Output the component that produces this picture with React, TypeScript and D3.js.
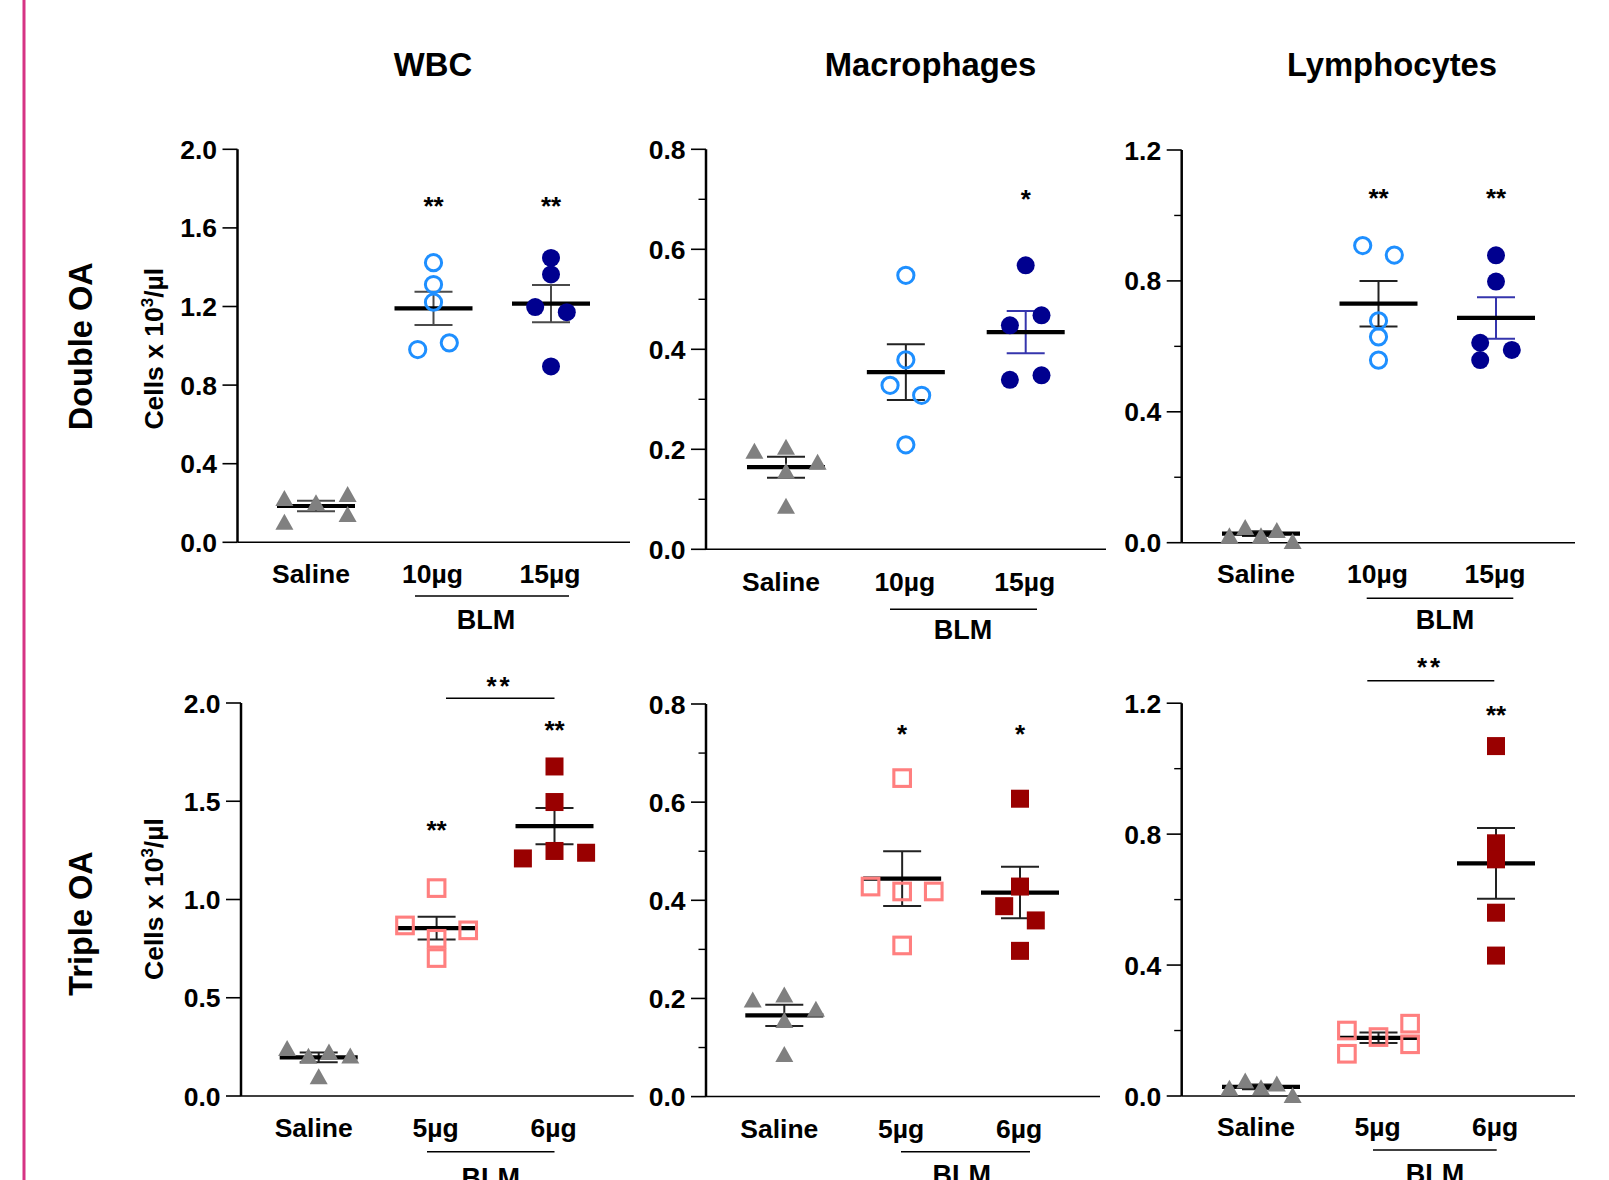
import React from "react";
import * as d3 from "d3";

const W = 1609;
const H = 1180;
const FONT = "'Liberation Sans', Arial, Helvetica, sans-serif";

// ---------- text / categories ----------
const columnTitles = ["WBC", "Macrophages", "Lymphocytes"];
const rowLabels = ["Double OA", "Triple OA"];
const doubleGroups = ["Saline", "10µg", "15µg"];
const tripleGroups = ["Saline", "5µg", "6µg"];
const bracketLabel = "BLM";

// ---------- y ticks ----------
const wbcDoubleTicks = [0, 0.4, 0.8, 1.2, 1.6, 2.0];
const wbcTripleTicks = [0, 0.5, 1.0, 1.5, 2.0];
const macroTicks = [0, 0.2, 0.4, 0.6, 0.8];
const macroMinorTicks = [0.1, 0.3, 0.5, 0.7];
const lymphoTicks = [0, 0.4, 0.8, 1.2];
const lymphoMinorTicks = [0.2, 0.6, 1.0];

// ---------- data (cells x 10^3/µl) ----------
const wbcDoubleSaline = [0.226, 0.104, 0.204, 0.246, 0.144];
const wbcDouble10 = [1.423, 1.312, 1.222, 0.981, 1.015];
const wbcDouble15 = [1.447, 1.363, 1.197, 1.171, 0.895];
const macroDoubleSaline = [0.197, 0.205, 0.157, 0.087, 0.175];
const macroDouble10 = [0.548, 0.379, 0.328, 0.308, 0.209];
const macroDouble15 = [0.568, 0.448, 0.468, 0.339, 0.348];
const lymphoDoubleSaline = [0.023, 0.048, 0.023, 0.039, 0.005];
const lymphoDouble10 = [0.908, 0.879, 0.678, 0.629, 0.558];
const lymphoDouble15 = [0.878, 0.798, 0.611, 0.589, 0.558];
const wbcTripleSaline = [0.244, 0.205, 0.227, 0.206, 0.1];
const wbcTriple5 = [1.058, 0.868, 0.843, 0.8, 0.702];
const wbcTriple6 = [1.677, 1.496, 1.209, 1.247, 1.238];
const macroTripleSaline = [0.198, 0.208, 0.156, 0.087, 0.179];
const macroTriple5 = [0.649, 0.428, 0.418, 0.418, 0.308];
const macroTriple6 = [0.607, 0.428, 0.388, 0.359, 0.297];
const lymphoTripleSaline = [0.025, 0.047, 0.027, 0.038, 0.003];
const lymphoTriple5 = [0.2, 0.129, 0.18, 0.221, 0.158];
const lymphoTriple6 = [1.069, 0.772, 0.723, 0.56, 0.429];

// horizontal scatter slot of each point (in marker widths)
const wbcDoubleSlots = [[-2, -2, 0, 2, 2], [0, 0, 0, -1, 1], [0, 0, -1, 1, 0]];
const macroDoubleSlots = [[-2, 0, 0, 0, 2], [0, 0, -1, 1, 0], [0, -1, 1, -1, 1]];
const lymphoDoubleSlots = [[-2, -1, 0, 1, 2], [-1, 1, 0, 0, 0], [0, 0, -1, 1, -1]];
const wbcTripleSlots = [[-2, -0.65, 0.65, 2, 0], [0, -2, 2, 0, 0], [0, 0, -2, 0, 2]];
const macroTripleSlots = [[-2, 0, 0, 0, 2], [0, -2, 0, 2, 0], [0, 0, -1, 1, 0]];
const lymphoTripleSlots = [[-2, -1, 0, 1, 2], [-2, -2, 0, 2, 2], [0, 0, 0, 0, 0]];

// significance marks
const wbcDoubleStars = ["", "**", "**"];
const macroDoubleStars = ["", "", "*"];
const lymphoDoubleStars = ["", "**", "**"];
const wbcTripleStars = ["", "**", "**"];
const macroTripleStars = ["", "*", "*"];
const lymphoTripleStars = ["", "", "**"];
const betweenDoseStars = "**";

// ---------- styles ----------
const GRAY = "#808080";
const BLUE_OPEN = "#1e8fff";
const NAVY = "#00008f";
const PINK_OPEN = "#ff7f7f";
const DARK_RED = "#990000";
const ERR_DARK = "#222";
const ERR_GRAY = "#4a4a4a";
const ERR_BLUE = "#3535ad";
const SLOT = 15.8;

type MarkerKind = "triangle" | "openCircle" | "filledCircle" | "openSquare" | "filledSquare";

function Marker({ kind, x, y }: { kind: MarkerKind; x: number; y: number }) {
  const t = `translate(${x},${y})`;
  switch (kind) {
    case "triangle":
      return <path transform={t} d="M0,-8L9,8L-9,8Z" fill={GRAY} />;
    case "openCircle":
      return <circle transform={t} r={8.1} fill="none" stroke={BLUE_OPEN} strokeWidth={3} />;
    case "filledCircle":
      return <circle transform={t} r={9} fill={NAVY} />;
    case "openSquare":
      return <rect transform={t} x={-8.3} y={-8.3} width={16.6} height={16.6} fill="none" stroke={PINK_OPEN} strokeWidth={3.1} />;
    case "filledSquare":
      return <rect transform={t} x={-9} y={-9} width={18} height={18} fill={DARK_RED} />;
  }
  return null;
}

interface PanelCfg {
  axisX: number; yTop: number; yZero: number; x0: number; x2: number; xEnd: number;
  catY: number; blmY: number; blmX1: number; blmX2: number; blmTextX: number; blmTextY: number;
  starY: number[];
  bracket?: { x1: number; x2: number; y: number; textX: number; textY: number };
}

interface PanelProps {
  cfg: PanelCfg;
  groups: string[];
  series: number[][];
  slots: number[][];
  markers: MarkerKind[];
  errColors: string[];
  ticks: number[];
  minor: number[];
  domain: [number, number];
  stars: string[];
}

function Panel({ cfg, groups, series, slots, markers, errColors, ticks, minor, domain, stars }: PanelProps) {
  const y = d3.scaleLinear().domain(domain).range([cfg.yZero, cfg.yTop]);
  const x = d3.scalePoint<string>().domain(groups).range([cfg.x0, cfg.x2]);
  const fmt = d3.format(".1f");
  const stats = series.map((vals) => {
    const m = d3.mean(vals) as number;
    const sem = (d3.deviation(vals) as number) / Math.sqrt(vals.length);
    return { m, sem };
  });
  return (
    <g>
      {/* y axis */}
      <line x1={cfg.axisX} x2={cfg.axisX} y1={y(domain[1])} y2={y(0)} stroke="#000" strokeWidth={2.5} />
      {ticks.map((t) => (
        <g key={"t" + t}>
          <line x1={cfg.axisX - 15} x2={cfg.axisX} y1={y(t)} y2={y(t)} stroke="#000" strokeWidth={1.6} />
          <text x={cfg.axisX - 20.5} y={y(t)} dy="0.36em" textAnchor="end" fontFamily={FONT} fontWeight="bold" fontSize={26.5}>
            {fmt(t)}
          </text>
        </g>
      ))}
      {minor.map((t) => (
        <line key={"m" + t} x1={cfg.axisX - 7.5} x2={cfg.axisX} y1={y(t)} y2={y(t)} stroke="#000" strokeWidth={1.4} />
      ))}
      {/* x axis */}
      <line x1={cfg.axisX} x2={cfg.xEnd} y1={y(0)} y2={y(0)} stroke="#000" strokeWidth={1.5} />
      {groups.map((g) => (
        <text key={"c" + g} x={(x(g) as number) - (g === "Saline" ? 5 : 1)} y={cfg.catY} textAnchor="middle" fontFamily={FONT} fontWeight="bold" fontSize={26.5}>
          {g}
        </text>
      ))}
      <line x1={cfg.blmX1} x2={cfg.blmX2} y1={cfg.blmY} y2={cfg.blmY} stroke="#000" strokeWidth={1.5} />
      <text x={cfg.blmTextX} y={cfg.blmTextY} textAnchor="middle" fontFamily={FONT} fontWeight="bold" fontSize={27}>
        {bracketLabel}
      </text>
      {/* mean + SEM */}
      {groups.map((g, i) => {
        const cx = x(g) as number;
        const { m, sem } = stats[i];
        const c = errColors[i];
        return (
          <g key={"e" + g}>
            <line x1={cx} x2={cx} y1={y(m - sem)} y2={y(m + sem)} stroke={c} strokeWidth={2} />
            <line x1={cx - 19} x2={cx + 19} y1={y(m + sem)} y2={y(m + sem)} stroke={c} strokeWidth={2} />
            <line x1={cx - 19} x2={cx + 19} y1={y(m - sem)} y2={y(m - sem)} stroke={c} strokeWidth={2} />
            <line x1={cx - 39} x2={cx + 39} y1={y(m)} y2={y(m)} stroke="#000" strokeWidth={4.2} />
          </g>
        );
      })}
      {/* points */}
      {groups.map((g, i) =>
        series[i].map((v, j) => (
          <Marker key={g + j} kind={markers[i]} x={(x(g) as number) + slots[i][j] * SLOT} y={y(v)} />
        ))
      )}
      {/* stars */}
      {groups.map((g, i) =>
        stars[i] ? (
          <text key={"s" + g} x={x(g) as number} y={cfg.starY[i] + 14.5} textAnchor="middle" fontFamily={FONT} fontWeight="bold" fontSize={26}>
            {stars[i]}
          </text>
        ) : null
      )}
      {cfg.bracket ? (
        <g>
          <line x1={cfg.bracket.x1} x2={cfg.bracket.x2} y1={cfg.bracket.y} y2={cfg.bracket.y} stroke="#000" strokeWidth={1.5} />
          <text x={cfg.bracket.textX} y={cfg.bracket.textY + 13} textAnchor="middle" fontFamily={FONT} fontWeight="bold" fontSize={26} letterSpacing={3}>
            {betweenDoseStars}
          </text>
        </g>
      ) : null}
    </g>
  );
}

const cfgA: PanelCfg = { axisX: 237.5, yTop: 149.3, yZero: 542.3, x0: 316, x2: 551, xEnd: 630, catY: 582.5, blmY: 596, blmX1: 415, blmX2: 569, blmTextX: 486, blmTextY: 628.5, starY: [0, 200, 200] };
const cfgB: PanelCfg = { axisX: 706, yTop: 149.3, yZero: 549.3, x0: 786, x2: 1025.7, xEnd: 1106, catY: 591, blmY: 609.3, blmX1: 890, blmX2: 1037, blmTextX: 963, blmTextY: 639, starY: [0, 0, 193] };
const cfgC: PanelCfg = { axisX: 1181.7, yTop: 150, yZero: 542.7, x0: 1261, x2: 1496, xEnd: 1575, catY: 582.5, blmY: 598.3, blmX1: 1366.7, blmX2: 1513.3, blmTextX: 1445, blmTextY: 629, starY: [0, 192, 192] };
const cfgD: PanelCfg = { axisX: 241, yTop: 703, yZero: 1096, x0: 318.7, x2: 554.5, xEnd: 633.7, catY: 1137, blmY: 1151.7, blmX1: 427, blmX2: 554.5, blmTextX: 490.8, blmTextY: 1186.5, starY: [0, 824, 724.5] };
cfgD.bracket = { x1: 446, x2: 554.5, y: 698.3, textX: 499.5, textY: 682 };
const cfgE: PanelCfg = { axisX: 706, yTop: 704, yZero: 1096.6, x0: 784.3, x2: 1020, xEnd: 1100, catY: 1138, blmY: 1151.7, blmX1: 901, blmX2: 1030, blmTextX: 961.7, blmTextY: 1184, starY: [0, 728.5, 728.5] };
const cfgF: PanelCfg = { axisX: 1181.7, yTop: 703.2, yZero: 1096, x0: 1261, x2: 1496, xEnd: 1575, catY: 1136, blmY: 1150, blmX1: 1373, blmX2: 1496.7, blmTextX: 1435, blmTextY: 1182.5, starY: [0, 0, 709.5] };
cfgF.bracket = { x1: 1367.3, x2: 1494.3, y: 680.7, textX: 1430, textY: 663 };

const doubleMarkers: MarkerKind[] = ["triangle", "openCircle", "filledCircle"];
const tripleMarkers: MarkerKind[] = ["triangle", "openSquare", "filledSquare"];

function YLabel({ x, y }: { x: number; y: number }) {
  return (
    <text transform={`translate(${x},${y}) rotate(-90)`} textAnchor="middle" fontFamily={FONT} fontWeight="bold" fontSize={26.5}>
      Cells x 10<tspan dy={-10} fontSize={17}>3</tspan><tspan dy={10}>/µl</tspan>
    </text>
  );
}

export default function App() {
  const titleX = [433, 930.5, 1392];
  return (
    <div style={{ position: "fixed", left: 0, top: 0, width: W, height: H, overflow: "hidden", background: "#fff" }}>
      <svg width={W} height={H} viewBox={`0 0 ${W} ${H}`} style={{ display: "block" }}>
        <rect x={0} y={0} width={W} height={H} fill="#fff" />
        <rect x={22.5} y={0} width={3} height={H} fill="#d63384" />
        {columnTitles.map((t, i) => (
          <text key={t} x={titleX[i]} y={76} textAnchor="middle" fontFamily={FONT} fontWeight="bold" fontSize={32.8}>
            {t}
          </text>
        ))}
        <text transform="translate(91.5,346.3) rotate(-90)" textAnchor="middle" fontFamily={FONT} fontWeight="bold" fontSize={32.5}>
          {rowLabels[0]}
        </text>
        <text transform="translate(91.5,923.5) rotate(-90)" textAnchor="middle" fontFamily={FONT} fontWeight="bold" fontSize={32.5}>
          {rowLabels[1]}
        </text>
        <YLabel x={163} y={348.7} />
        <YLabel x={163} y={899} />

        <Panel cfg={cfgA} groups={doubleGroups} series={[wbcDoubleSaline, wbcDouble10, wbcDouble15]} slots={wbcDoubleSlots}
          markers={doubleMarkers} errColors={[ERR_GRAY, ERR_GRAY, ERR_GRAY]} ticks={wbcDoubleTicks} minor={[]} domain={[0, 2]} stars={wbcDoubleStars} />
        <Panel cfg={cfgB} groups={doubleGroups} series={[macroDoubleSaline, macroDouble10, macroDouble15]} slots={macroDoubleSlots}
          markers={doubleMarkers} errColors={[ERR_DARK, ERR_DARK, ERR_BLUE]} ticks={macroTicks} minor={macroMinorTicks} domain={[0, 0.8]} stars={macroDoubleStars} />
        <Panel cfg={cfgC} groups={doubleGroups} series={[lymphoDoubleSaline, lymphoDouble10, lymphoDouble15]} slots={lymphoDoubleSlots}
          markers={doubleMarkers} errColors={[ERR_DARK, ERR_DARK, ERR_BLUE]} ticks={lymphoTicks} minor={lymphoMinorTicks} domain={[0, 1.2]} stars={lymphoDoubleStars} />
        <Panel cfg={cfgD} groups={tripleGroups} series={[wbcTripleSaline, wbcTriple5, wbcTriple6]} slots={wbcTripleSlots}
          markers={tripleMarkers} errColors={[ERR_DARK, ERR_DARK, ERR_DARK]} ticks={wbcTripleTicks} minor={[]} domain={[0, 2]} stars={wbcTripleStars} />
        <Panel cfg={cfgE} groups={tripleGroups} series={[macroTripleSaline, macroTriple5, macroTriple6]} slots={macroTripleSlots}
          markers={tripleMarkers} errColors={[ERR_DARK, ERR_DARK, ERR_DARK]} ticks={macroTicks} minor={macroMinorTicks} domain={[0, 0.8]} stars={macroTripleStars} />
        <Panel cfg={cfgF} groups={tripleGroups} series={[lymphoTripleSaline, lymphoTriple5, lymphoTriple6]} slots={lymphoTripleSlots}
          markers={tripleMarkers} errColors={[ERR_DARK, ERR_DARK, ERR_DARK]} ticks={lymphoTicks} minor={lymphoMinorTicks} domain={[0, 1.2]} stars={lymphoTripleStars} />
      </svg>
    </div>
  );
}
